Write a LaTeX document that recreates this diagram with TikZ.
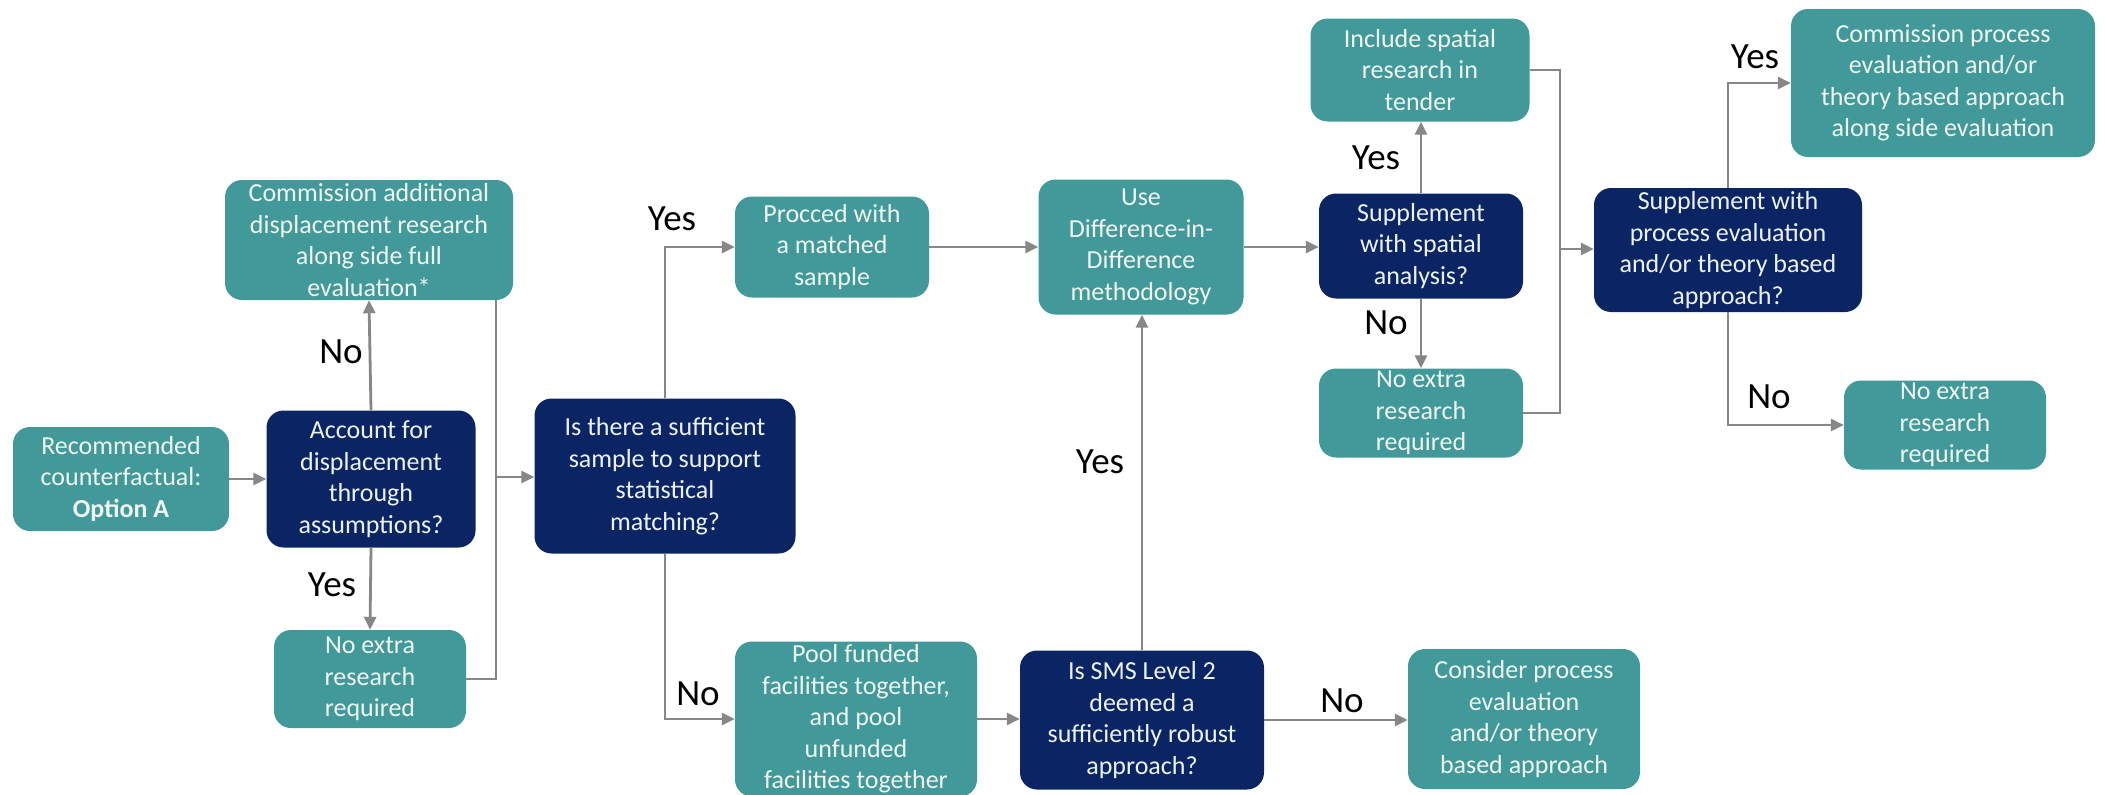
\documentclass[tikz,border=0pt]{standalone}
\usepackage{fontspec}
\setmainfont{Carlito}
\usetikzlibrary{arrows.meta}
\definecolor{teal1}{RGB}{66,153,153}
\definecolor{navy1}{RGB}{11,37,100}
\definecolor{gline}{RGB}{135,135,135}
\definecolor{tltext}{RGB}{240,246,242}
\definecolor{nvtext}{RGB}{236,242,250}
\tikzset{
  boxbase/.style={rounded corners=17pt, inner sep=0pt, align=center,
    font=\fontsize{26}{31.5}\selectfont},
  tealbox/.style={boxbase, fill=teal1, text=tltext},
  navybox/.style={boxbase, fill=navy1, text=nvtext},
  conn/.style={draw=gline, line width=2.8pt},
  arr/.style={conn, -{Triangle[length=13pt,width=12pt]}},
  lbl/.style={font=\fontsize{37}{40}\selectfont, text=black, inner sep=0pt}
}
\begin{document}
\begin{tikzpicture}[x=1pt,y=-1pt]
\useasboundingbox[fill=white] (0,0) rectangle (2105,795);

% nodes
\node[tealbox, minimum width=216pt, minimum height=104pt] (A) at (121,479)
  {Recommended\\counterfactual:\\\textbf{Option A}};
\node[navybox, minimum width=209pt, minimum height=137pt] (B) at (371,479)
  {Account for\\displacement\\through\\assumptions?};
\node[tealbox, minimum width=288pt, minimum height=120pt] (C) at (369,240)
  {Commission additional\\displacement research\\along side full\\evaluation*};
\node[tealbox, minimum width=192pt, minimum height=98pt] (D) at (370,679)
  {No extra\\research\\required};
\node[navybox, minimum width=261pt, minimum height=155pt] (E) at (665,476)
  {Is there a sufficient\\sample to support\\statistical\\matching?};
\node[tealbox, minimum width=194pt, minimum height=101pt] (F) at (832,247)
  {Procced with\\a matched\\sample};
\node[tealbox, minimum width=242pt, minimum height=155pt] (G) at (856,719)
  {Pool funded\\facilities together,\\and pool\\unfunded\\facilities together};
\node[navybox, minimum width=244pt, minimum height=139pt] (H) at (1142,720)
  {Is SMS Level 2\\deemed a\\sufficiently robust\\approach?};
\node[tealbox, minimum width=232pt, minimum height=140pt] (I) at (1524,719)
  {Consider process\\evaluation\\and/or theory\\based approach};
\node[tealbox, minimum width=205pt, minimum height=135pt] (J) at (1141,247)
  {Use\\Difference-in-\\Difference\\methodology};
\node[navybox, minimum width=204pt, minimum height=105pt] (K) at (1421,246)
  {Supplement\\with spatial\\analysis?};
\node[tealbox, minimum width=219pt, minimum height=103pt] (L) at (1420,70)
  {Include spatial\\research in\\tender};
\node[tealbox, minimum width=204pt, minimum height=89pt] (M) at (1421,413)
  {No extra\\research\\required};
\node[navybox, minimum width=268pt, minimum height=124pt] (N) at (1728,250)
  {Supplement with\\process evaluation\\and/or theory based\\approach?};
\node[tealbox, minimum width=304pt, minimum height=148pt] (O) at (1943,83)
  {Commission process\\evaluation and/or\\theory based approach\\along side evaluation};
\node[tealbox, minimum width=202pt, minimum height=89pt] (P) at (1945,425)
  {No extra\\research\\required};

% junction coordinates
\coordinate (cx) at (496,477);
\coordinate (cy) at (1560,249);

% connectors
\draw[arr] (A.east) -- (B.west);
\draw[arr] (B.north) -- (C.south);
\draw[arr] (B.south) -- (D.north);
\draw[conn] (cx |- C.south) -- (cx |- D.east) -- (D.east);
\draw[arr] (cx) -- (cx -| E.west);
\draw[arr] (E.north) |- (F.west);
\draw[arr] (E.south) |- (G.west);
\draw[arr] (F.east) -- (J.west);
\draw[arr] (G.east) -- (G.east -| H.west);
\draw[arr] (H.north) -- (H.north |- J.south);
\draw[arr] (H.east) -- (H.east -| I.west);
\draw[arr] (J.east) -- (J.east -| K.west);
\draw[arr] (K.north) -- (K.north |- L.south);
\draw[arr] (K.south) -- (K.south |- M.north);
\draw[conn] (L.east) -- (L.east -| cy) -- (cy |- M.east) -- (M.east);
\draw[arr] (cy) -- (cy -| N.west);
\draw[arr] (N.north) |- (O.west);
\draw[arr] (N.south) |- (P.west);

% labels
\node[lbl] (l1) at (341,352) {No};
\node[lbl] (l2) at (332,585) {Yes};
\node[lbl] (l3) at (672,219) {Yes};
\node[lbl] (l4) at (698,694) {No};
\node[lbl] (l5) at (1100,462) {Yes};
\node[lbl] (l6) at (1342,701) {No};
\node[lbl] (l7) at (1376,158) {Yes};
\node[lbl] (l8) at (1386,323) {No};
\node[lbl] (l9) at (1755,57) {Yes};
\node[lbl] (l10) at (1769,397) {No};
\end{tikzpicture}
\end{document}
